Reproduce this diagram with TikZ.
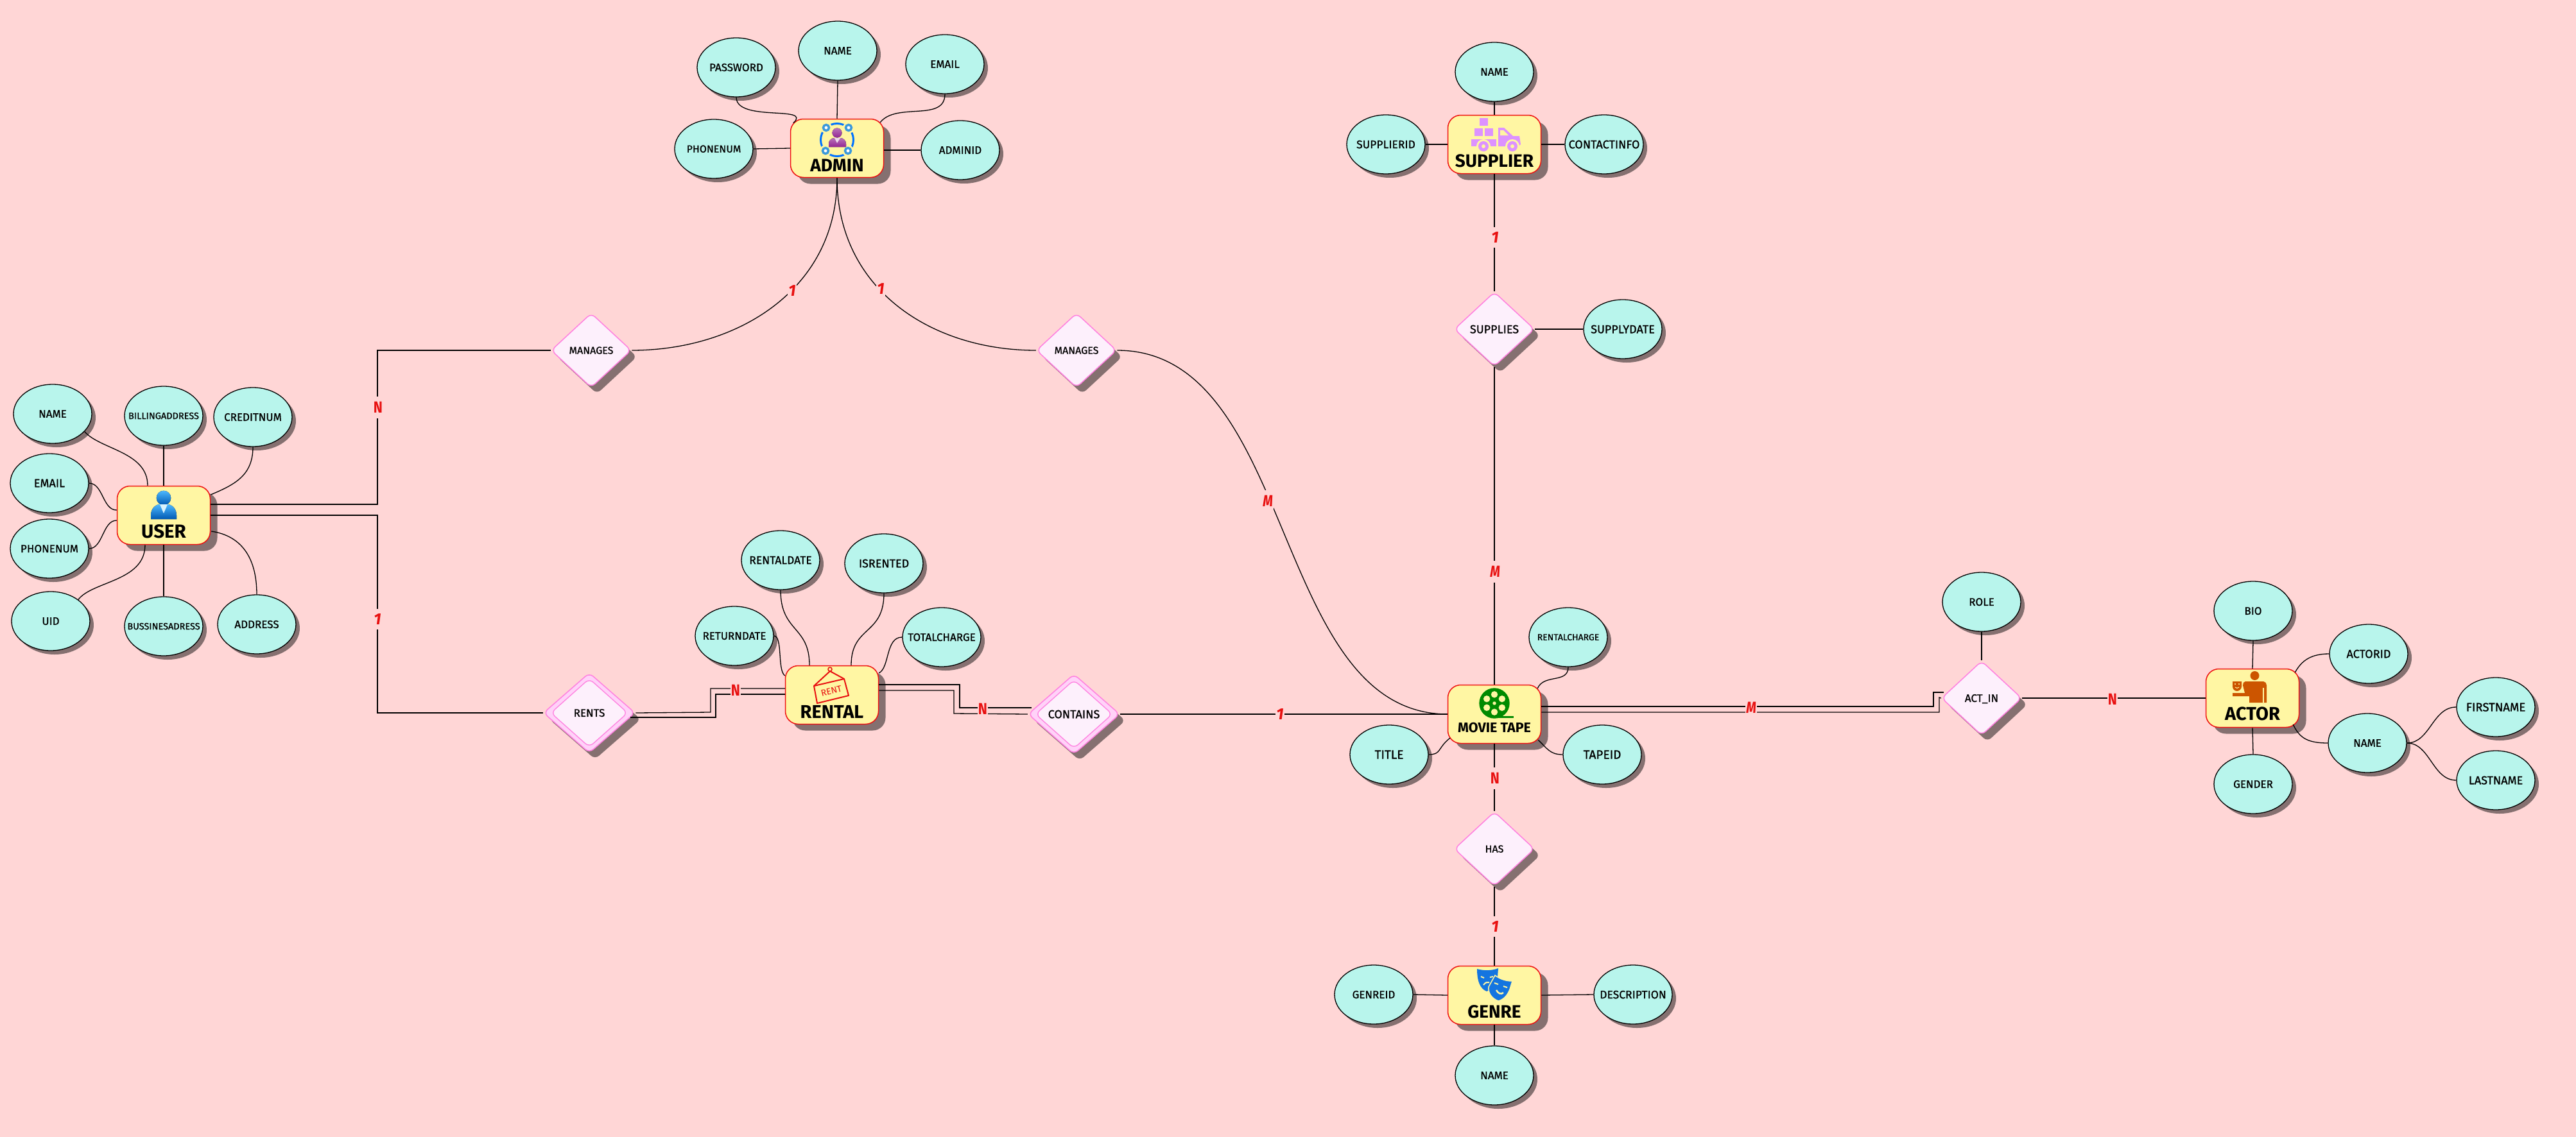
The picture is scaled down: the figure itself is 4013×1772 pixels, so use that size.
\documentclass[tikz,border=0pt]{standalone}
\usepackage{fontspec}
\setmainfont{Fira Sans}
\newfontfamily\attrfont[FakeBold=0.9]{Fira Sans}
\usetikzlibrary{shapes.geometric,shadows,calc}
\definecolor{bgc}{HTML}{FFD6D6}
\definecolor{shc}{HTML}{857070}
\definecolor{attrc}{HTML}{B8F5EC}
\definecolor{entc}{HTML}{FFF6A3}
\definecolor{relc}{HTML}{FDF0FC}
\definecolor{relo}{HTML}{FFD2F8}
\definecolor{reld}{HTML}{FF80E0}
\definecolor{redc}{HTML}{E81010}
\definecolor{entd}{HTML}{EE1111}
\newcommand{\tx}[2]{\makebox[0pt]{\attrfont\fontsize{#1pt}{#1pt}\selectfont #2}}
\newcommand{\entl}[3]{\smash{\raisebox{-#1pt}{\makebox[0pt]{\fontsize{#2pt}{#2pt}\selectfont\bfseries #3}}}}
\tikzset{
  attr/.style={ellipse,draw=black,line width=1.3pt,fill=attrc,minimum width=122pt,minimum height=92pt,inner sep=0pt,text depth=0pt,
    drop shadow={shadow xshift=6pt,shadow yshift=-6pt,fill=shc,opacity=1}},
  ent/.style={rectangle,rounded corners=20pt,draw=entd,line width=1.5pt,fill=entc,minimum width=145pt,minimum height=91pt,inner sep=0pt,
    drop shadow={shadow xshift=11pt,shadow yshift=-10pt,fill=shc,opacity=1}},
  rela/.style={diamond,rounded corners=8pt,draw=reld,line width=1.5pt,fill=relc,minimum width=125pt,minimum height=116pt,shape aspect=1.08,inner sep=0pt,text depth=0pt,
    drop shadow={shadow xshift=9pt,shadow yshift=-10pt,fill=shc,opacity=1}},
  relw/.style={diamond,rounded corners=8pt,draw=reld,line width=1.5pt,fill=relo,minimum width=143pt,minimum height=125pt,shape aspect=1.14,inner sep=0pt,
    drop shadow={shadow xshift=9pt,shadow yshift=-10pt,fill=shc,opacity=1}},
  reli/.style={diamond,rounded corners=8pt,draw=reld,line width=1.3pt,fill=relc,minimum width=120pt,minimum height=107pt,shape aspect=1.12,inner sep=0pt,text depth=0pt},
  ln/.style={draw=black,line width=1.3pt},
  lab/.style={fill=bgc,text=redc,inner xsep=1pt,inner ysep=8pt,font=\fontsize{25pt}{25pt}\selectfont\bfseries,text depth=0pt}
}
\newcommand{\mN}{\scalebox{.85}[1]{N}}
\newcommand{\mM}{\scalebox{.8}[1]{\itshape M}}
\newcommand{\mO}{\itshape 1}
\begin{document}
\begin{tikzpicture}[x=1pt,y=-1pt]
\useasboundingbox[fill=bgc] (0,0) rectangle (4013,1772);

% ---------- entities
\node[ent] (user) at (255,803) {\entl{35}{29.5}{USER}};
\node[ent] (admin) at (1304,231) {\entl{36}{28}{ADMIN}};
\node[ent] (rental) at (1296,1083) {\entl{36}{29}{RENTAL}};
\node[ent] (supplier) at (2328,225) {\entl{35}{28}{SUPPLIER}};
\node[ent] (movie) at (2328,1113) {\entl{28}{21.5}{MOVIE TAPE}};
\node[ent] (genre) at (2328,1551) {\entl{35}{28}{GENRE}};
\node[ent] (actor) at (3509,1088) {\entl{34}{29}{ACTOR}};

% ---------- user attributes
\node[attr] (uname) at (82,645) {\tx{17}{NAME}};
\node[attr] (ubill) at (255,648) {\tx{14.5}{BILLINGADDRESS}};
\node[attr] (ucredit) at (394,650) {\tx{17}{CREDITNUM}};
\node[attr] (uemail) at (77,753) {\tx{18}{EMAIL}};
\node[attr] (uphone) at (77,855) {\tx{17}{PHONENUM}};
\node[attr] (uid) at (79,968) {\tx{17}{UID}};
\node[attr] (ubus) at (255,976) {\tx{14.5}{BUSSINESADRESS}};
\node[attr] (uaddr) at (400,973) {\tx{17}{ADDRESS}};

% ---------- admin attributes
\node[attr] (apass) at (1147,105) {\tx{17}{PASSWORD}};
\node[attr] (aname) at (1305,79) {\tx{17}{NAME}};
\node[attr] (aemail) at (1472,100) {\tx{17}{EMAIL}};
\node[attr] (aphone) at (1112,232) {\tx{16}{PHONENUM}};
\node[attr] (aid) at (1496,234) {\tx{17}{ADMINID}};

% ---------- rental attributes
\node[attr] (rret) at (1144,991) {\tx{17}{RETURNDATE}};
\node[attr] (rdate) at (1216,873) {\tx{17.5}{RENTALDATE}};
\node[attr] (ris) at (1377,878) {\tx{18}{ISRENTED}};
\node[attr] (rtot) at (1467,993) {\tx{17}{TOTALCHARGE}};

% ---------- supplier attributes
\node[attr] (sname) at (2328,112) {\tx{17}{NAME}};
\node[attr] (sid) at (2159,225) {\tx{17.5}{SUPPLIERID}};
\node[attr] (scontact) at (2499,225) {\tx{18}{CONTACTINFO}};
\node[attr] (sdate) at (2528,513) {\tx{18}{SUPPLYDATE}};

% ---------- movie attributes
\node[attr] (mcharge) at (2443,993) {\tx{14}{RENTALCHARGE}};
\node[attr] (mtitle) at (2164,1176) {\tx{19}{TITLE}};
\node[attr] (mid) at (2496,1176) {\tx{19}{TAPEID}};

% ---------- genre attributes
\node[attr] (gid) at (2140,1550) {\tx{17}{GENREID}};
\node[attr] (gdesc) at (2544,1550) {\tx{17.5}{DESCRIPTION}};
\node[attr] (gname) at (2328,1676) {\tx{17}{NAME}};

% ---------- actor attributes
\node[attr] (crole) at (3087,938) {\tx{17}{ROLE}};
\node[attr] (cbio) at (3510,952) {\tx{17}{BIO}};
\node[attr] (cid) at (3690,1019) {\tx{18}{ACTORID}};
\node[attr] (cname) at (3688,1158) {\tx{17}{NAME}};
\node[attr] (cfirst) at (3888,1102) {\tx{18.5}{FIRSTNAME}};
\node[attr] (clast) at (3888,1216) {\tx{18}{LASTNAME}};
\node[attr] (cgender) at (3510,1222) {\tx{17}{GENDER}};

% ---------- relationships
\node[rela] (man1) at (921,546) {\tx{16}{MANAGES}};
\node[rela] (man2) at (1677,546) {\tx{16}{MANAGES}};
\node[rela] (supp) at (2328,513) {\tx{18}{SUPPLIES}};
\node[rela] (has) at (2328,1323) {\tx{16}{HAS}};
\node[rela] (act) at (3087,1088) {\tx{17}{ACT\_IN}};
\node[relw] (rents) at (918,1111) {};
\node[reli] (rentsi) at (918,1111) {\tx{17}{RENTS}};
\node[relw] (cont) at (1673,1113) {};
\node[reli] (conti) at (1673,1113) {\tx{18}{CONTAINS}};

% ---------- connectors: user
\draw[ln] (uname.-29) .. controls +(24,28) and +(0,-53) .. ([shift={(-25,0)}]user.north);
\draw[ln] (ubill.south) -- (user.north);
\draw[ln] (ucredit.south) .. controls +(0,44) and +(38,-16) .. ([shift={(0,-32)}]user.east);
\draw[ln] (uemail.east) .. controls +(22,0) and +(-22,0) .. ([shift={(0,-8)}]user.west);
\draw[ln] (uphone.east) .. controls +(22,0) and +(-22,0) .. ([shift={(0,8)}]user.west);
\draw[ln] (uid.38) .. controls +(22,-29) and +(0,57) .. ([shift={(-29,0)}]user.south);
\draw[ln] (ubus.north) -- (user.south);
\draw[ln] (uaddr.north) .. controls +(0,-57) and +(47,7) .. ([shift={(1,25)}]user.east);
% ---------- connectors: admin
\draw[ln] (apass.south) .. controls +(0,39) and +(31,-28) .. ([shift={(5,7)}]admin.north west);
\draw[ln] (aname.south) -- (admin.north);
\draw[ln] (aemail.south) .. controls +(0,44) and +(25,-32) .. ([shift={(-6,6)}]admin.north east);
\draw[ln] (aphone.east) -- (admin.west);
\draw[ln] (aid.west) -- ([shift={(0,3)}]admin.east);
% ---------- connectors: rental
\draw[ln] (rret.east) .. controls +(14,0) and +(-12,-8) .. ([shift={(0,-30)}]rental.west);
\draw[ln] (rdate.south) .. controls +(0,66) and +(0,-62) .. ([shift={(-35,0)}]rental.north);
\draw[ln] (ris.south) .. controls +(0,66) and +(0,-62) .. ([shift={(30,0)}]rental.north);
\draw[ln] (rtot.west) .. controls +(-26,0) and +(17,-9) .. ([shift={(0,-34)}]rental.east);
% ---------- connectors: supplier
\draw[ln] (sname.south) -- (supplier.north);
\draw[ln] (sid.east) -- (supplier.west);
\draw[ln] (scontact.west) -- (supplier.east);
\draw[ln] (sdate.west) -- (supp.east);
\draw[ln] (supplier.south) -- (supp.north);
\draw[ln] (supp.south) -- (movie.north);
% ---------- connectors: movie
\draw[ln] (mcharge.south) .. controls +(0,26) and +(10,-23) .. ([shift={(-6,6)}]movie.north east);
\draw[ln] (mtitle.east) .. controls +(20,0) and +(-20,16) .. ([shift={(4,-9)}]movie.south west);
\draw[ln] (mid.west) .. controls +(-20,0) and +(14,13) .. ([shift={(-5,-6)}]movie.south east);
\draw[ln] (movie.south) -- (has.north);
\draw[ln] (has.south) -- (genre.north);
% ---------- connectors: genre
\draw[ln] (gid.east) -- (genre.west);
\draw[ln] (gdesc.west) -- (genre.east);
\draw[ln] (gname.north) -- (genre.south);
% ---------- connectors: actor
\draw[ln] (crole.south) -- (act.north);
\draw[ln] (act.east) -- (actor.west);
\draw[ln] (cbio.south) -- (actor.north);
\draw[ln] (cgender.north) -- (actor.south);
\draw[ln] (cid.west) .. controls +(-29,0) and +(10,-18) .. ([shift={(-7,-40)}]actor.east);
\draw[ln] (cname.west) .. controls +(-32,0) and +(10,21) .. ([shift={(-10,41)}]actor.east);
\draw[ln] (cfirst.west) .. controls +(-37,0) and +(36,0) .. (cname.east);
\draw[ln] (clast.west) .. controls +(-37,0) and +(36,0) .. (cname.east);
% ---------- connectors: relationships
\draw[ln] ([shift={(0,-17)}]user.east) -- (588,786) -- (588,546) -- (man1.west);
\draw[ln] (user.east) -- (588,803) -- (588,1111) -- (rents.west);
\draw[ln] (man1.east) .. controls (1150,546) and (1304,450) .. (admin.south);
\draw[ln] (man2.west) .. controls (1450,546) and (1304,450) .. (admin.south);
\draw[ln] (man2.east) .. controls (2020,546) and (1980,1112) .. (movie.west);
\draw[ln] (rents.east) -- (1107,1110) -- (1107,1073) -- ([shift={(0,-10)}]rental.west);
\draw[ln] ([shift={(-8,7)}]rents.east) -- (1115,1118) -- (1115,1082) -- ([shift={(0,-1)}]rental.west);
\draw[ln] ([shift={(0,-16)}]rental.east) -- (1495,1067) -- (1495,1103) -- ([shift={(6,-10)}]cont.west);
\draw[ln] ([shift={(0,-7)}]rental.east) -- (1486,1076) -- (1486,1112) -- (cont.west);
\draw[ln] (cont.east) -- (movie.west);
\draw[ln] ([shift={(0,-12)}]movie.east) -- (3012,1101) -- (3012,1079) -- ([shift={(4,-9)}]act.west);
\draw[ln] ([shift={(0,-3)}]movie.east) -- (3021,1110) -- (3021,1087) -- (act.west);

% ---------- cardinality labels
\node[lab] (l1) at (589,635) {\mN};
\node[lab] (l2) at (588,965) {\mO};
\node[lab] (l3) at (1234,453) {\mO};
\node[lab] (l4) at (1372,450) {\mO};
\node[lab] (l5) at (1975,781) {\mM};
\node[lab] (l6) at (1146,1076) {\mN};
\node[lab] (l7) at (1531,1105) {\mN};
\node[lab] (l8) at (1994,1113) {\mO};
\node[lab] (l9) at (2329,370) {\mO};
\node[lab] (l10) at (2329,891) {\mM};
\node[lab] (l11) at (2329,1213) {\mN};
\node[lab] (l12) at (2329,1444) {\mO};
\node[lab] (l13) at (2728,1103) {\mM};
\node[lab] (l14) at (3291,1090) {\mN};

% ---------- icon: user
\fill[top color=cyan!60!blue!70,bottom color=cyan!50!blue!70!black] (255,776) circle[radius=11.3pt];
\fill[top color=cyan!60!blue!70,bottom color=cyan!50!blue!70!black] (235,809) -- (235,803) .. controls (235,792) and (243,786) .. (249,786) -- (261,786) .. controls (267,786) and (275,792) .. (275,803) -- (275,809) -- cycle;
\fill[cyan!15] (249,786) -- (261,786) -- (255,800) -- cycle;

% ---------- icon: admin
\draw[line width=3pt,color=blue!55!cyan] (1304,218) circle[radius=25.5pt];
\foreach \p in {(1287,199),(1322,199),(1286,235),(1321,235)}{
  \fill[entc] \p circle[radius=9pt];
  \filldraw[draw=cyan!70!blue!80,fill=white,line width=3.5pt] \p circle[radius=4.5pt];
}
\fill[top color=violet!55!white,bottom color=violet!85!white] (1304,207) circle[radius=7.5pt];
\fill[top color=violet!55!white,bottom color=violet!85!white] (1291,229) -- (1291,224) .. controls (1291,219) and (1295,215) .. (1300,215) -- (1309,215) .. controls (1314,215) and (1318,219) .. (1318,224) -- (1318,229) -- cycle;
\fill[violet!15] (1300,215) -- (1309,215) -- (1304,223) -- cycle;

% ---------- icon: rental
\draw[draw=redc,line width=2pt,line join=round] (1268,1069) -- (1315,1058) -- (1322,1084) -- (1273,1096) -- cycle;
\draw[draw=redc,line width=2pt] (1268,1069) -- (1293,1046) -- (1315,1058);
\draw[draw=redc,line width=1.5pt] (1293,1043) circle[radius=3pt];
\node[text=redc,inner sep=0pt,rotate=14,text depth=0pt] (renticon) at (1295,1077) {\makebox[0pt]{\fontsize{14pt}{14pt}\selectfont RENT}};

% ---------- icon: supplier
\definecolor{truckc}{HTML}{DD92FF}
\fill[truckc] (2305,184) rectangle (2318,196);
\fill[truckc] (2297,200) rectangle (2310,212);
\fill[truckc] (2313,200) rectangle (2326,212);
\fill[truckc] (2292,217) rectangle (2331,228);
\fill[truckc] (2334,199) -- (2343,199) -- (2357,212) -- (2367,212) -- (2369,225) -- (2365,228) -- (2334,228) -- cycle;
\fill[entc] (2337,203) -- (2342,203) -- (2350,211) -- (2337,211) -- cycle;
\foreach \p in {(2311,228),(2356,228)}{
  \fill[entc] \p circle[radius=11pt];
  \fill[truckc] \p circle[radius=8pt];
  \fill[entc] \p circle[radius=3pt];
}

% ---------- icon: movie reel
\definecolor{reelc}{HTML}{008A00}
\fill[reelc] (2328,1096) circle[radius=23.7pt];
\fill[reelc] (2328,1116) rectangle (2358,1119);
\foreach \a in {30,90,150,210,270,330}{
  \fill[entc] ($(2328,1096)+(\a:13.7pt)$) circle[radius=5.2pt];
}
\fill[entc] (2328,1096) circle[radius=2.7pt];

% ---------- icon: genre masks
\definecolor{maskc}{HTML}{1475E0}
\fill[maskc] (2301,1510) .. controls (2311,1513) and (2324,1513) .. (2334,1509) -- (2333,1522) .. controls (2332,1534) and (2326,1541) .. (2316,1545) .. controls (2306,1541) and (2301,1530) .. cycle;
\fill[maskc,draw=entc,line width=1.5pt] (2329,1520) .. controls (2338,1527) and (2348,1529) .. (2356,1529) -- (2352,1542) .. controls (2348,1552) and (2342,1558) .. (2334,1560) .. controls (2324,1556) and (2318,1548) .. (2319,1538) -- cycle;
\draw[entc,line width=2pt] (2307,1522) -- (2312,1524) (2321,1523) -- (2326,1522);
\draw[entc,line width=2pt] (2311,1535) .. controls (2314,1531) and (2317,1530) .. (2320,1531);
\draw[entc,line width=2pt] (2328,1532) -- (2334,1534) (2342,1537) -- (2348,1539);
\draw[entc,line width=2.5pt] (2331,1543) .. controls (2334,1549) and (2339,1550) .. (2342,1547);

% ---------- icon: actor
\definecolor{actc}{HTML}{CC5500}
\fill[actc] (3512.5,1053) circle[radius=7pt];
\fill[actc] (3498,1062) -- (3526,1062) .. controls (3529,1062) and (3531,1065) .. (3531,1068) -- (3531,1095) -- (3504,1095) -- (3504,1085) -- (3478,1085) -- (3478,1080) -- (3497,1080) -- (3494,1068) .. controls (3494,1065) and (3495,1062) .. cycle;
\draw[entc,line width=1.5pt] (3526,1072) -- (3526,1095);
\fill[actc] (3478,1062) -- (3492,1062) -- (3492,1070) .. controls (3492,1074) and (3488,1077) .. (3485,1077) .. controls (3481,1077) and (3478,1074) .. (3478,1070) -- cycle;
\fill[entc] (3482,1066) circle[radius=1.2pt] (3488,1066) circle[radius=1.2pt];
\draw[entc,line width=1pt] (3482,1071) .. controls (3484,1073) and (3486,1073) .. (3488,1071);
\end{tikzpicture}
\end{document}
